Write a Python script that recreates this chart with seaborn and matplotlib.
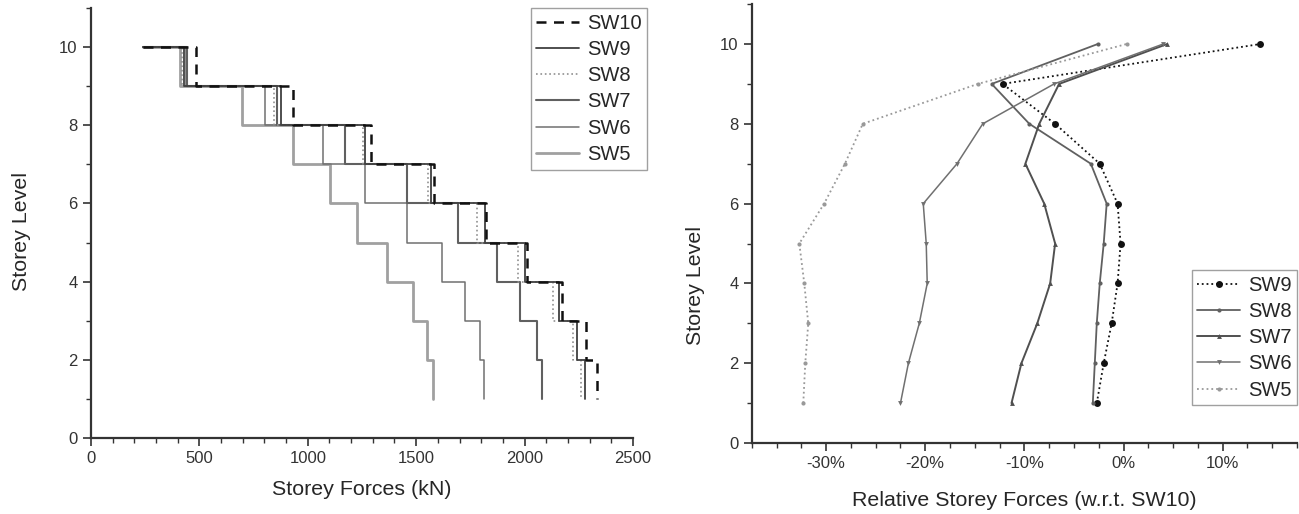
import numpy as np
import pandas as pd
import matplotlib
matplotlib.use('Agg')
import matplotlib.pyplot as plt
import seaborn as sns
from matplotlib.ticker import MultipleLocator, FuncFormatter

sns.set_style('ticks')
plt.rcParams['font.family'] = ['Liberation Sans', 'DejaVu Sans']

# storey shear per interval (level k to k+1), k = 1..9
levels = [1, 2, 3, 4, 5, 6, 7, 8, 9]
top_force = 241
sw10 = [2333, 2283, 2172, 2010, 1822, 1580, 1290, 933, 484]
sw9 = [2279, 2240, 2160, 2002, 1817, 1568, 1262, 876, 428]
sw8 = [2262, 2222, 2132, 1971, 1779, 1554, 1256, 846, 420]
sw7 = [2079, 2056, 1979, 1871, 1694, 1456, 1171, 858, 444]
sw6 = [1813, 1794, 1725, 1617, 1456, 1264, 1071, 803, 438]
sw5 = [1579, 1548, 1487, 1364, 1225, 1102, 933, 695, 410]

# relative storey forces w.r.t. SW10 (%), levels 1..10
rel_levels = [1, 2, 3, 4, 5, 6, 7, 8, 9, 10]
rel9 = [-2.7, -2.0, -1.2, -0.6, -0.3, -0.6, -2.4, -6.9, -12.2, 13.8]
rel8 = [-3.1, -2.9, -2.7, -2.4, -2.0, -1.7, -3.3, -9.5, -13.3, -2.6]
rel7 = [-11.3, -10.3, -8.7, -7.4, -6.9, -8.0, -9.9, -8.5, -6.5, 4.4]
rel6 = [-22.5, -21.7, -20.6, -19.8, -19.9, -20.2, -16.8, -14.2, -7.0, 4.0]
rel5 = [-32.3, -32.1, -31.8, -32.2, -32.7, -30.2, -28.1, -26.3, -14.7, 0.3]


def steps(vals):
    xs, ys = [top_force], [levels[-1] + 1]
    for lv, v in sorted(zip(levels, vals), reverse=True):
        xs += [v, v]
        ys += [lv + 1, lv]
    return xs, ys


fig = plt.figure(figsize=(12.99, 5.14), dpi=100)
ax1 = fig.add_axes([0.070, 0.148, 0.4173, 0.8364])
ax2 = fig.add_axes([0.5787, 0.138, 0.4198, 0.854])

left_styles = [
    ('SW5', sw5, dict(color='#a0a0a0', lw=2.0, linestyle='-')),
    ('SW6', sw6, dict(color='#707070', lw=1.1, linestyle='-')),
    ('SW7', sw7, dict(color='#606060', lw=1.5, linestyle='-')),
    ('SW8', sw8, dict(color='#909090', lw=1.2, linestyle=':')),
    ('SW9', sw9, dict(color='#404040', lw=1.3, linestyle='-')),
    ('SW10', sw10, dict(color='#111111', lw=1.8, linestyle=(0, (4, 3)))),
]
handles = {}
for name, vals, st in left_styles:
    xs, ys = steps(vals)
    sns.lineplot(x=xs, y=ys, sort=False, estimator=None, ax=ax1, label=name, **st)
    handles[name] = ax1.get_lines()[-1]

legend_kw = dict(loc='upper right', bbox_transform=fig.transFigure, borderaxespad=0,
                 fancybox=False, edgecolor='#888888', fontsize=14.5, handlelength=2.1,
                 labelspacing=0.36, borderpad=0.28, handletextpad=0.4)
order = ['SW10', 'SW9', 'SW8', 'SW7', 'SW6', 'SW5']
leg1 = ax1.legend([handles[n] for n in order], order,
                  bbox_to_anchor=(647 / 1299, 1 - 8 / 514), **legend_kw)
leg1.set_zorder(5)

ax1.set_xlim(0, 2500)
ax1.set_ylim(0, 11)
ax1.xaxis.set_major_locator(MultipleLocator(500))
ax1.xaxis.set_minor_locator(MultipleLocator(100))
ax1.set_xlabel('Storey Forces (kN)', fontsize=15.4, labelpad=10)
ax1.set_ylabel('Storey Level', fontsize=15.4)
ax1.yaxis.set_label_coords(-0.11, 0.48)

right_styles = [
    ('SW9', rel9, dict(color='#111111', lw=1.3, linestyle=':', marker='o', markersize=5)),
    ('SW8', rel8, dict(color='#606060', lw=1.3, linestyle='-', marker='o', markersize=3)),
    ('SW7', rel7, dict(color='#505050', lw=1.4, linestyle='-', marker='^', markersize=3.5)),
    ('SW6', rel6, dict(color='#707070', lw=1.1, linestyle='-', marker='v', markersize=3.5)),
    ('SW5', rel5, dict(color='#999999', lw=1.3, linestyle=':', marker='o', markersize=3)),
]
for name, vals, st in right_styles:
    sns.lineplot(x=vals, y=rel_levels, sort=False, estimator=None, ax=ax2, label=name,
                 markeredgewidth=0, **st)

ax2.legend(bbox_to_anchor=(1297 / 1299, 1 - 270 / 514), **legend_kw)

ax2.set_xlim(-37.5, 17.5)
ax2.set_ylim(0, 11)
ax2.xaxis.set_major_locator(MultipleLocator(10))
ax2.xaxis.set_minor_locator(MultipleLocator(2.5))
ax2.xaxis.set_major_formatter(FuncFormatter(lambda v, p: '%d%%' % round(v)))
ax2.set_xlabel('Relative Storey Forces (w.r.t. SW10)', fontsize=15.4, labelpad=14)
ax2.set_ylabel('Storey Level', fontsize=15.4)
ax2.yaxis.set_label_coords(-0.085, 0.36)

for ax in (ax1, ax2):
    ax.yaxis.set_major_locator(MultipleLocator(2))
    ax.yaxis.set_minor_locator(MultipleLocator(1))
    ax.tick_params(which='major', length=6, width=1.2, labelsize=12, colors='#333333')
    ax.tick_params(which='minor', length=3.5, width=1.0, colors='#333333')
    for s in ('left', 'bottom'):
        ax.spines[s].set_linewidth(1.6)
        ax.spines[s].set_color('#333333')
    sns.despine(ax=ax)

fig.savefig('out.png', dpi=100)
